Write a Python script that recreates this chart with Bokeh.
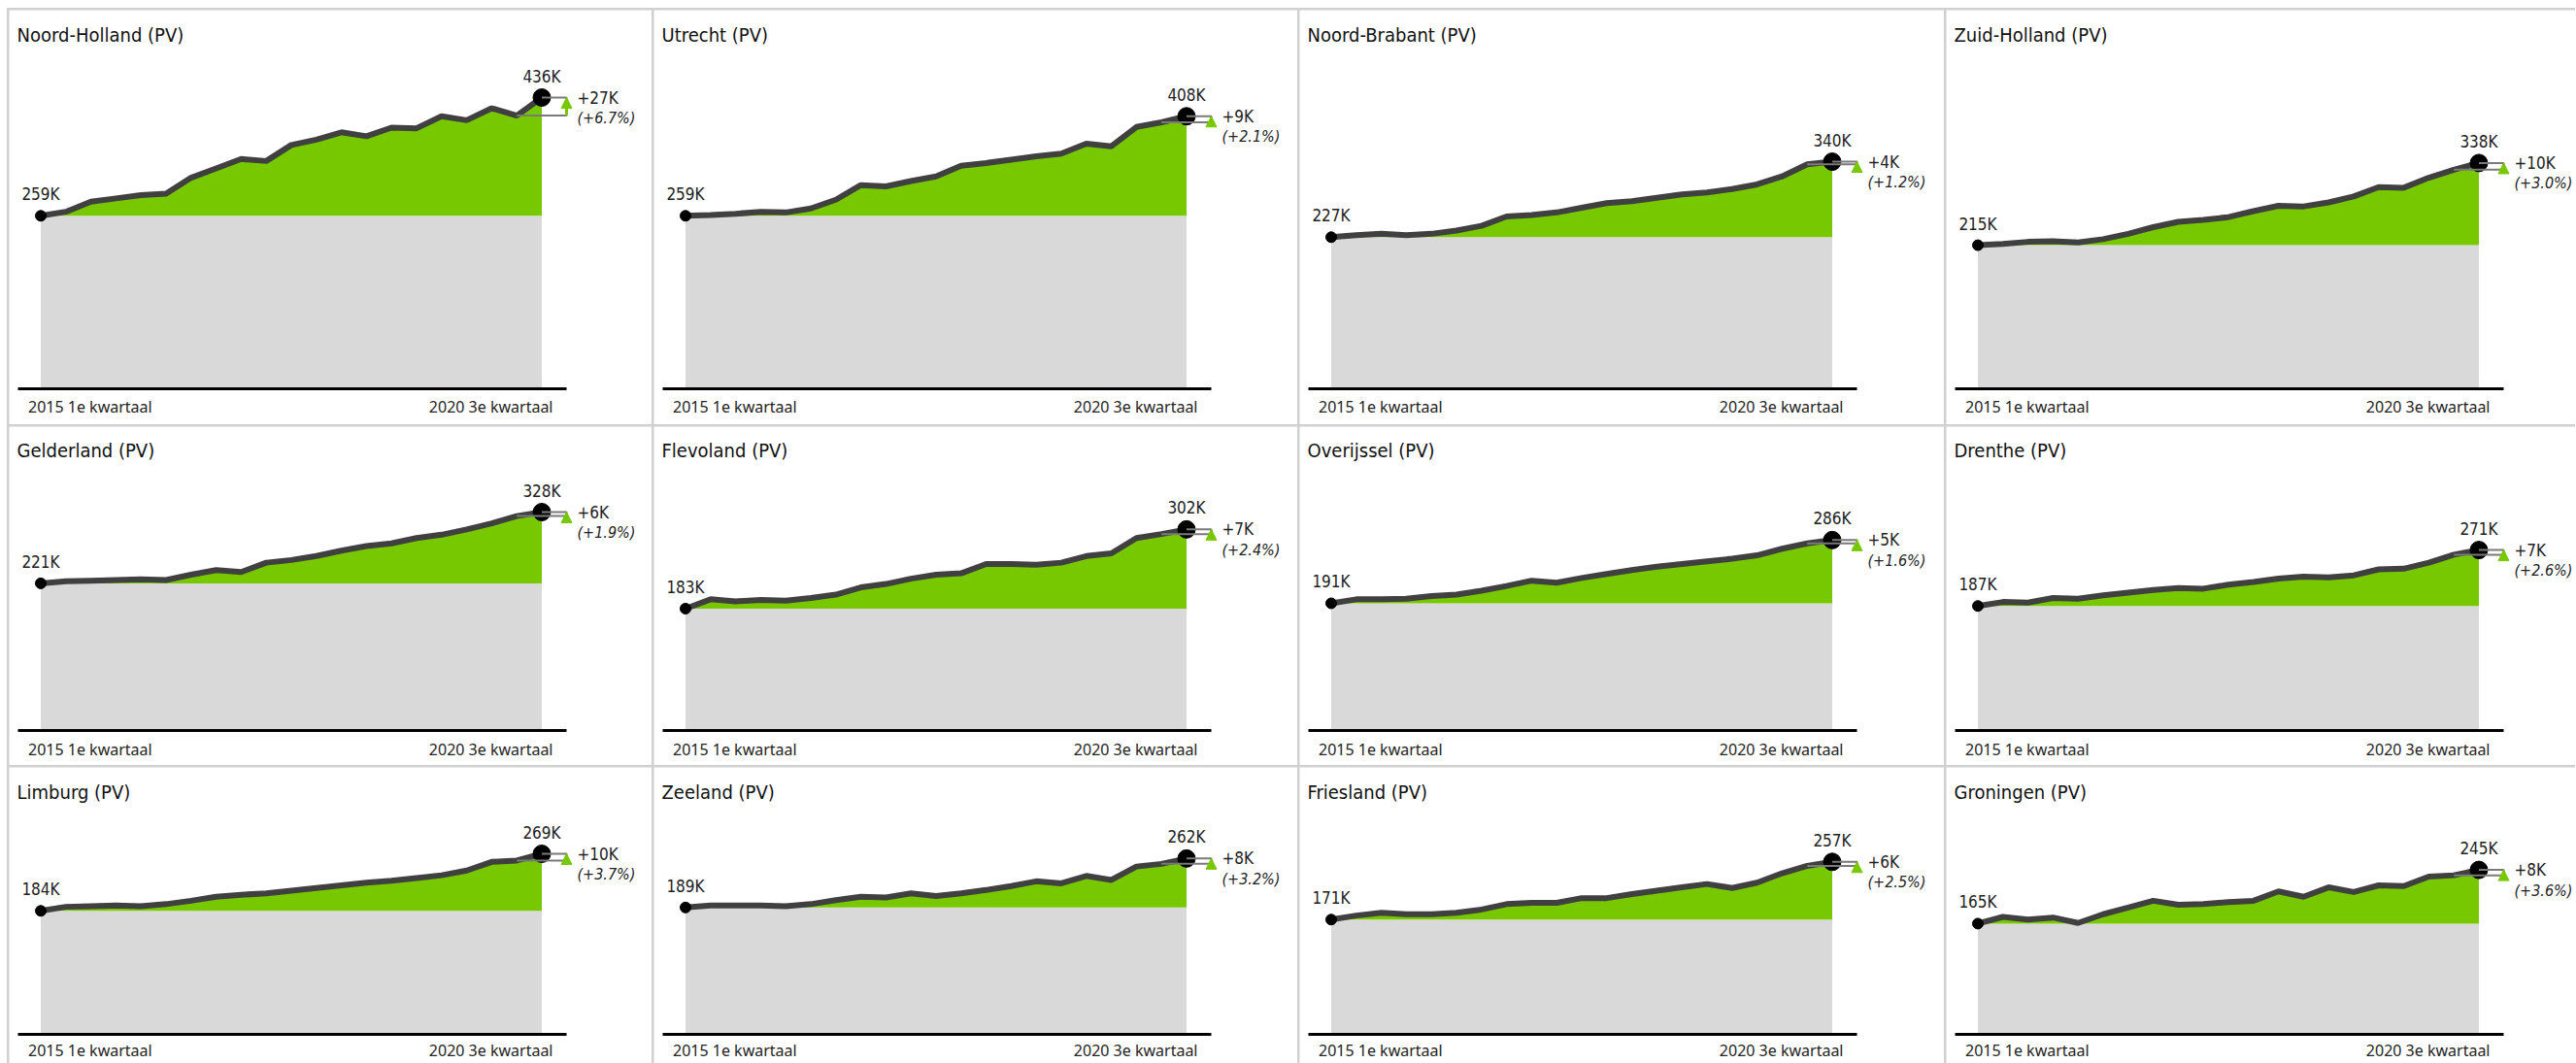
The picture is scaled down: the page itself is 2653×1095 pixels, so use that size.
from bokeh.plotting import figure
from bokeh.layouts import row, column
from bokeh.models import Range1d, FixedTicker, Label, Arrow, NormalHead
from bokeh.embed import file_html
from bokeh.resources import INLINE

# ---------------- data (thousands, quarterly) ----------------
period_first = "2015 1e kwartaal"
period_last = "2020 3e kwartaal"

provinces = ["Noord-Holland", "Utrecht", "Noord-Brabant", "Zuid-Holland",
             "Gelderland", "Flevoland", "Overijssel", "Drenthe",
             "Limburg", "Zeeland", "Friesland", "Groningen"]

noord_holland = [259, 265, 280, 285, 290, 292, 316, 330, 344, 341, 365, 373, 384, 378, 391, 390, 408, 402, 420, 409, 436]
utrecht = [259, 260, 262, 265, 264, 270, 283, 305, 303, 311, 318, 334, 338, 343, 348, 352, 367, 363, 392, 399, 408]
noord_brabant = [227, 230, 232, 230, 232, 237, 244, 258, 260, 264, 271, 278, 281, 286, 291, 294, 299, 306, 318, 336, 340]
zuid_holland = [215, 217, 220, 221, 219, 224, 232, 242, 250, 253, 257, 266, 274, 273, 279, 288, 302, 301, 316, 328, 338]
gelderland = [221, 224, 225, 226, 227, 226, 234, 241, 238, 252, 256, 262, 270, 277, 281, 289, 294, 302, 311, 322, 328]
flevoland = [183, 197, 194, 196, 195, 199, 204, 215, 220, 228, 234, 236, 250, 250, 249, 252, 262, 266, 289, 295, 302]
overijssel = [191, 197, 197, 198, 202, 204, 210, 217, 225, 222, 229, 235, 241, 246, 250, 254, 258, 263, 273, 281, 286]
drenthe = [187, 193, 192, 199, 198, 203, 207, 211, 214, 213, 219, 223, 228, 231, 230, 233, 242, 243, 252, 264, 271]
limburg = [184, 190, 191, 192, 191, 194, 199, 205, 208, 210, 214, 218, 222, 226, 229, 233, 237, 244, 257, 259, 269]
zeeland = [189, 192, 192, 192, 191, 194, 200, 205, 204, 210, 206, 210, 215, 221, 228, 225, 236, 230, 250, 254, 262]
friesland = [171, 177, 181, 179, 179, 181, 186, 194, 196, 196, 203, 203, 209, 214, 219, 224, 218, 226, 240, 251, 257]
groningen = [165, 175, 171, 174, 166, 179, 189, 199, 193, 194, 197, 199, 213, 205, 219, 212, 222, 221, 235, 237, 245]

delta_text = ["+27K", "+9K", "+4K", "+10K", "+6K", "+7K", "+5K", "+7K", "+10K", "+8K", "+6K", "+8K"]
pct_text = ["(+6.7%)", "(+2.1%)", "(+1.2%)", "(+3.0%)", "(+1.9%)", "(+2.4%)", "(+1.6%)", "(+2.6%)",
            "(+3.7%)", "(+3.2%)", "(+2.5%)", "(+3.6%)"]

series = [noord_holland, utrecht, noord_brabant, zuid_holland,
          gelderland, flevoland, overijssel, drenthe,
          limburg, zeeland, friesland, groningen]

# ---------------- styling / layout ----------------
COND = "DejaVu Sans Condensed"
UI = "Noto Sans"
GREEN = "#78C800"
GRAY_AREA = "#D9D9D9"
LINE = "#404040"
BRACKET = "#7A7A7A"
BORDER = "#D0D0D0"

COL_W = [662, 663, 664, 648]
ROW_H = [427, 349, 305]
ROW_GEOM = [
    dict(title=25, top=90, axis=390, xlab=408),
    dict(title=24, top=88, axis=313, xlab=332),
    dict(title=25, top=89, axis=275, xlab=291),
]
X_FIRST, X_LAST = 32.5, 548.5
AXIS_L, AXIS_R = 9, 574
BRACKET_PX = 574
TITLE_PX = 8


def make_panel(name, vals, dlab, plab, W, H, g, rowmax):
    n = len(vals)
    idx = list(range(n))
    ppx = (X_LAST - X_FIRST) / (n - 1)

    def xd(px):
        return (px - X_FIRST) / ppx

    s = (g["axis"] - g["top"]) / rowmax

    def yd(py):
        return (g["axis"] - py) / s

    p = figure(width=W, height=H, x_range=Range1d(xd(0), xd(W)), y_range=Range1d(yd(H), yd(0)),
               output_backend="svg", toolbar_location=None, tools="",
               min_border_left=0, min_border_right=0, min_border_top=0, min_border_bottom=0,
               y_axis_location=None)
    p.background_fill_color = "white"
    p.border_fill_color = "white"
    p.outline_line_color = None
    p.xgrid.visible = False
    p.ygrid.visible = False

    ax = p.xaxis[0]
    ax.fixed_location = 0
    ax.ticker = FixedTicker(ticks=[])
    ax.bounds = (xd(AXIS_L), xd(AXIS_R))
    ax.axis_line_width = 3
    ax.axis_line_color = "black"
    ax.major_tick_line_color = None
    ax.minor_tick_line_color = None
    ax.major_label_text_font_size = "0px"

    start, end, prev = vals[0], vals[-1], vals[-2]
    p.quad(left=[idx[0]], right=[idx[-1]], bottom=[0], top=[start],
           fill_color=GRAY_AREA, line_color=None)
    p.varea(x=idx, y1=[start] * n, y2=vals, fill_color=GREEN)
    p.line(idx, vals, line_width=6, line_color=LINE)
    p.scatter([idx[0]], [start], size=11, color="black")
    p.scatter([idx[-1]], [end], size=18, color="black")

    xb = xd(BRACKET_PX)
    p.line([idx[-1], xb, xb, idx[-2]], [end, end, prev, prev], line_width=2, line_color=BRACKET)
    p.add_layout(Arrow(end=NormalHead(size=11, fill_color=GREEN, line_color=GREEN, line_width=1),
                       x_start=xb, y_start=prev, x_end=xb, y_end=end,
                       line_color=GREEN, line_width=3))

    p.add_layout(Label(x=xd(TITLE_PX), y=yd(g["title"]), text=f"{name} (PV)",
                       text_font=COND, text_font_size="20px", text_color="#111111",
                       text_align="left", text_baseline="middle"))
    p.add_layout(Label(x=idx[0], y=start, text=f"{start}K", y_offset=22,
                       text_font=COND, text_font_size="17px", text_color="#222222",
                       text_align="center", text_baseline="alphabetic"))
    p.add_layout(Label(x=idx[-1], y=end, text=f"{end}K", y_offset=22,
                       text_font=COND, text_font_size="17px", text_color="#222222",
                       text_align="center", text_baseline="alphabetic"))
    p.add_layout(Label(x=xb, y=end, text=dlab, x_offset=11, y_offset=0,
                       text_font=COND, text_font_size="17px", text_color="#222222",
                       text_align="left", text_baseline="middle"))
    p.add_layout(Label(x=xb, y=end, text=plab, x_offset=11, y_offset=-21,
                       text_font=COND, text_font_size="16px", text_font_style="italic",
                       text_color="#222222", text_align="left", text_baseline="middle"))
    ylab = yd(g["xlab"])
    p.add_layout(Label(x=idx[0], y=ylab, text=period_first, x_offset=-13,
                       text_font=UI, text_font_size="16px", text_color="#252423",
                       text_align="left", text_baseline="middle"))
    p.add_layout(Label(x=idx[-1], y=ylab, text=period_last, x_offset=11.5,
                       text_font=UI, text_font_size="16px", text_color="#252423",
                       text_align="right", text_baseline="middle"))
    return p


rows = []
for r in range(3):
    members = list(range(r * 4, r * 4 + 4))
    rowmax = max(max(series[i]) for i in members)
    figs = []
    for c, i in enumerate(members):
        figs.append(make_panel(provinces[i], series[i], delta_text[i], pct_text[i],
                               COL_W[c], ROW_H[r], ROW_GEOM[r], rowmax))
    rows.append(row(*figs, spacing=2))

root = column(*rows, spacing=2,
              styles={"background-color": BORDER, "padding-top": "2px", "padding-left": "2px",
                      "margin-top": "8px", "margin-left": "7px"})

open("out.html", "w").write(file_html(root, INLINE))
